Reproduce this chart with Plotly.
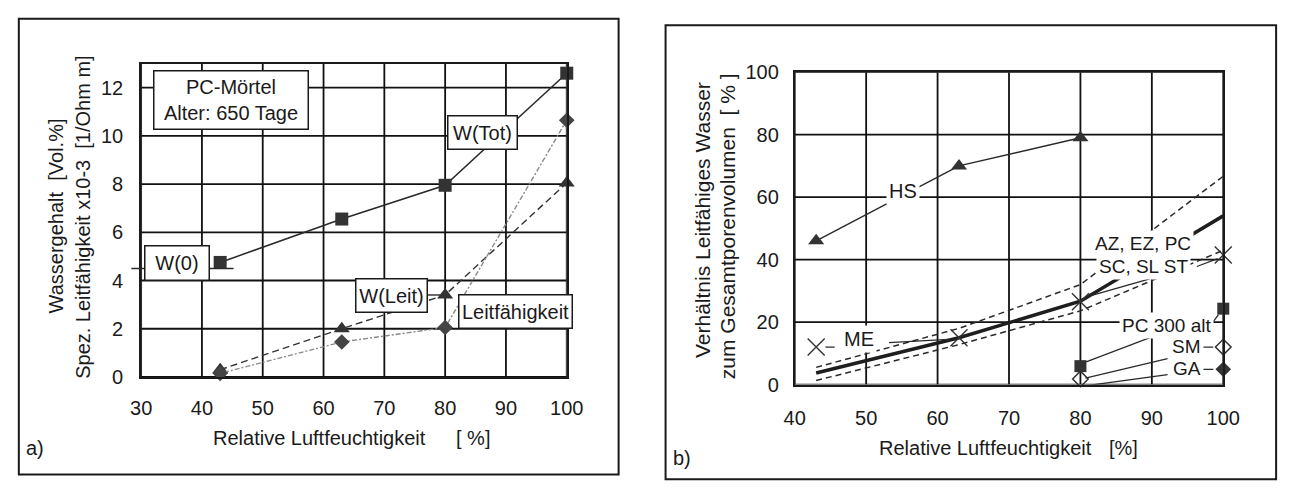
import plotly.graph_objects as go

# ---------------- data: panel a) PC-Mörtel, Alter 650 Tage ----------------
rh_a = [43, 63, 80, 100]                 # relative Luftfeuchtigkeit [%]
w_tot = [4.75, 6.55, 7.95, 12.6]         # W(Tot)  [Vol.%]
w_leit = [0.3, 2.0, 3.4, 8.05]           # W(Leit) [Vol.%]
leitf = [0.15, 1.45, 2.05, 10.65]        # spez. Leitfähigkeit x10-3 [1/Ohm m]
x_ticks_a = [30, 40, 50, 60, 70, 80, 90, 100]
y_ticks_a = [0, 2, 4, 6, 8, 10, 12]

# ---------------- data: panel b) ----------------
rh_hs = [43, 63, 80]
hs = [46, 70, 79]
rh_me = [43, 63, 80, 100]
me = [12, 15, 26.5, 41.5]
rh_band = [43, 63, 80, 100]              # AZ, EZ, PC, SC, SL, ST
band_mean = [3.7, 15, 26.7, 54]
band_upper = [5.5, 18, 32, 66.7]
band_lower = [1.3, 12.8, 23.6, 43]
rh_single = [80, 100]
pc300 = [5.9, 24.3]
sm = [1.8, 12.0]
ga = [-1.0, 4.9]
x_ticks_b = [40, 50, 60, 70, 80, 90, 100]
y_ticks_b = [0, 20, 40, 60, 80, 100]

W, H = 1298, 494
FONT = "Liberation Sans, Arial, Helvetica, sans-serif"
INK = "#1a1a1a"
GRID = "#111111"


def px(x):
    return x / W


def py(y):
    return 1 - y / H


# subplot placement (paper fractions)
dom_ax = [px(133), px(568)]
dom_ay = [py(383), py(55)]
dom_bx = [px(801), px(1239)]
dom_by = [py(391), py(64)]
range_ax, range_ay = [30, 100], [0, 13]
range_bx, range_by = [40, 100], [0, 100]


def a_to_paper(x, y):
    """map panel a) data values to paper fractions"""
    fx = dom_ax[0] + (x - range_ax[0]) / (range_ax[1] - range_ax[0]) * (dom_ax[1] - dom_ax[0])
    fy = dom_ay[0] + (y - range_ay[0]) / (range_ay[1] - range_ay[0]) * (dom_ay[1] - dom_ay[0])
    return fx, fy


def grid_trace(xt, yt, xr, yr, xa, ya):
    """one line trace holding every grid line of a panel"""
    gx, gy = [], []
    for v in xt:
        gx += [v, v, None]
        gy += [yr[0], yr[1], None]
    for v in yt:
        gx += [xr[0], xr[1], None]
        gy += [v, v, None]
    return go.Scatter(x=gx, y=gy, mode="lines", xaxis=xa, yaxis=ya, hoverinfo="skip",
                      connectgaps=False, line=dict(color=GRID, width=1.8))


fig = go.Figure()
fig.add_trace(grid_trace(x_ticks_a, y_ticks_a, range_ax, range_ay, "x", "y"))
fig.add_trace(grid_trace(x_ticks_b, y_ticks_b, range_bx, range_by, "x2", "y2"))

# ---- panel a) traces ----
fig.add_trace(go.Scatter(
    x=rh_a, y=w_tot, mode="lines+markers", xaxis="x", yaxis="y", cliponaxis=False,
    line=dict(color="#2a2a2a", width=1.5),
    marker=dict(symbol="square", size=13, color="#333333")))
fig.add_trace(go.Scatter(
    x=rh_a, y=w_leit, mode="lines+markers", xaxis="x", yaxis="y", cliponaxis=False,
    line=dict(color="#333333", width=1.4, dash="7px,4px"),
    marker=dict(symbol="triangle-up", size=14, color="#333333")))
fig.add_trace(go.Scatter(
    x=rh_a, y=leitf, mode="lines+markers", xaxis="x", yaxis="y", cliponaxis=False,
    line=dict(color="#8a8a8a", width=1.4, dash="2px,2px,5px,2px"),
    marker=dict(symbol="diamond", size=12, color="#444444")))

# ---- panel b) traces ----
fig.add_trace(go.Scatter(
    x=rh_band, y=band_upper, mode="lines", xaxis="x2", yaxis="y2",
    line=dict(color="#2a2a2a", width=1.5, dash="6px,4px")))
fig.add_trace(go.Scatter(
    x=rh_band, y=band_lower, mode="lines", xaxis="x2", yaxis="y2",
    line=dict(color="#2a2a2a", width=1.5, dash="6px,4px")))
fig.add_trace(go.Scatter(
    x=rh_band, y=band_mean, mode="lines", xaxis="x2", yaxis="y2",
    line=dict(color="#1e1e1e", width=3.5)))
fig.add_trace(go.Scatter(
    x=rh_hs, y=hs, mode="lines+markers", xaxis="x2", yaxis="y2", cliponaxis=False,
    line=dict(color="#2a2a2a", width=1.5),
    marker=dict(symbol="triangle-up", size=14, color="#333333")))
fig.add_trace(go.Scatter(
    x=rh_me, y=me, mode="markers", xaxis="x2", yaxis="y2", cliponaxis=False,
    marker=dict(symbol="x-thin-open", size=17, color="#333333",
                line=dict(color="#333333", width=1.4))))
fig.add_trace(go.Scatter(
    x=rh_single, y=pc300, mode="markers", xaxis="x2", yaxis="y2", cliponaxis=False,
    marker=dict(symbol="square", size=12, color="#333333")))
fig.add_trace(go.Scatter(
    x=rh_single, y=sm, mode="markers", xaxis="x2", yaxis="y2", cliponaxis=False,
    marker=dict(symbol="diamond-open", size=12, color="#333333", line=dict(width=1.5))))
fig.add_trace(go.Scatter(
    x=rh_single, y=ga, mode="markers", xaxis="x2", yaxis="y2", cliponaxis=False,
    marker=dict(symbol="diamond", size=12, color="#333333")))

axis_common = dict(
    showline=True, linecolor=INK, linewidth=1.8, mirror=True, showgrid=False,
    zeroline=False, ticks="outside", tickcolor="rgba(0,0,0,0)",
    tickfont=dict(family=FONT, size=20, color=INK),
    fixedrange=True, tickmode="array",
)

fig.update_layout(
    width=W, height=H, autosize=False,
    margin=dict(l=0, r=0, t=0, b=0),
    paper_bgcolor="white", plot_bgcolor="white",
    showlegend=False,
    font=dict(family=FONT, size=20, color=INK),
    xaxis=dict(axis_common, domain=dom_ax, range=range_ax, tickvals=x_ticks_a,
               anchor="y", ticklen=12),
    yaxis=dict(axis_common, domain=dom_ay, range=range_ay, tickvals=y_ticks_a,
               anchor="x", ticklen=12),
    xaxis2=dict(axis_common, domain=dom_bx, range=range_bx, tickvals=x_ticks_b,
                anchor="y2", ticklen=15),
    yaxis2=dict(axis_common, domain=dom_by, range=range_by, tickvals=y_ticks_b,
                anchor="x2", ticklen=10),
)

shapes = []
# outer panel frames
shapes.append(dict(type="rect", xref="paper", yref="paper",
                   x0=px(8), x1=px(621), y0=py(485), y1=py(8),
                   line=dict(color=INK, width=2), fillcolor="rgba(0,0,0,0)"))
shapes.append(dict(type="rect", xref="paper", yref="paper",
                   x0=px(669), x1=px(1293), y0=py(490), y1=py(15),
                   line=dict(color=INK, width=2), fillcolor="rgba(0,0,0,0)"))

# panel a) leader lines
lx0, ly0 = a_to_paper(28.4, 4.5)
lx1, ly1 = a_to_paper(45.2, 4.5)
shapes.append(dict(type="line", xref="paper", yref="paper", x0=lx0, y0=ly0, x1=lx1, y1=ly1,
                   line=dict(color="#2a2a2a", width=1.5)))
shapes.append(dict(type="line", xref="x", yref="y", x0=77.0, y0=3.4, x1=79.2, y1=3.4,
                   line=dict(color="#2a2a2a", width=1.4)))

# panel b) leader lines
leaders_b = [
    ((44.3, 12.0), (45.6, 12.0)),
    ((53.2, 13.4), (61.5, 14.5)),
    ((81.1, 28.2), (89.7, 33.8)),
    ((96.3, 37.8), (99.2, 40.3)),
    ((90.2, 15.4), (80.8, 7.3)),
    ((98.4, 19.5), (99.3, 22.3)),
    ((92.2, 8.3), (80.7, 2.1)),
    ((96.8, 12.0), (98.6, 12.0)),
    ((92.2, 3.2), (80.7, -0.4)),
    ((96.8, 4.9), (98.6, 4.9)),
]
for (xa, ya), (xb, yb) in leaders_b:
    shapes.append(dict(type="line", xref="x2", yref="y2", x0=xa, y0=ya, x1=xb, y1=yb,
                       line=dict(color="#2a2a2a", width=1.3)))
fig.update_layout(shapes=shapes)

ann = []


def boxed(text, x, y, w, h):
    ann.append(dict(text=text, x=x, y=y, xref="x", yref="y", showarrow=False,
                    xanchor="center", yanchor="middle", width=w, height=h,
                    bgcolor="white", bordercolor=INK, borderwidth=1.5, borderpad=0,
                    font=dict(family=FONT, size=20, color=INK)))


boxed("PC-Mörtel<br>Alter: 650 Tage", 44.8, 11.49, 153, 57)
boxed("W(Tot)", 86.2, 10.13, 68, 32)
boxed("W(0)", 35.95, 4.72, 63, 33)
boxed("W(Leit)", 71.1, 3.39, 70, 32)
boxed("Leitfähigkeit", 91.55, 2.71, 112, 32)


def plain_b(text, x, y, size=20):
    ann.append(dict(text=text, x=x, y=y, xref="x2", yref="y2", showarrow=False,
                    xanchor="center", yanchor="middle", bgcolor="white", borderpad=2,
                    font=dict(family=FONT, size=size, color=INK)))


plain_b("HS", 55.1, 62)
plain_b("ME", 49.0, 14.7)
plain_b("AZ, EZ, PC", 88.8, 45.1, 19)
plain_b("SC, SL ST", 88.8, 37.9, 19)
plain_b("PC 300 alt", 92.0, 19.0, 19)
plain_b("SM", 94.9, 12.2, 19)
plain_b("GA", 94.9, 5.0, 19)


def paper_text(text, x, y, angle=0, size=20):
    ann.append(dict(text=text, x=px(x), y=py(y), xref="paper", yref="paper",
                    showarrow=False, xanchor="center", yanchor="middle", textangle=angle,
                    font=dict(family=FONT, size=size, color=INK)))


NB = "\u00a0"
# axis titles, panel a)
paper_text("Wassergehalt" + NB * 2 + "[Vol.%]", 46, 215, -90)
paper_text("Spez. Leitfähigkeit x10-3" + NB * 2 + "[1/Ohm m]", 74, 215, -90)
paper_text("Relative Luftfeuchtigkeit", 315, 447)
paper_text("[ %]", 472, 447)
paper_text("a)", 25, 457)
# axis titles, panel b)
paper_text("Verhältnis Leitfähiges Wasser", 706, 219, -90, 21)
paper_text("zum Gesamtporenvolumen" + NB * 2 + "[ % ]", 733, 225, -90, 21)
paper_text("Relative Luftfeuchtigkeit", 996, 457)
paper_text("[%]", 1137, 457)
paper_text("b)", 686, 468)

fig.update_layout(annotations=ann)

fig.write_html("out.html")
